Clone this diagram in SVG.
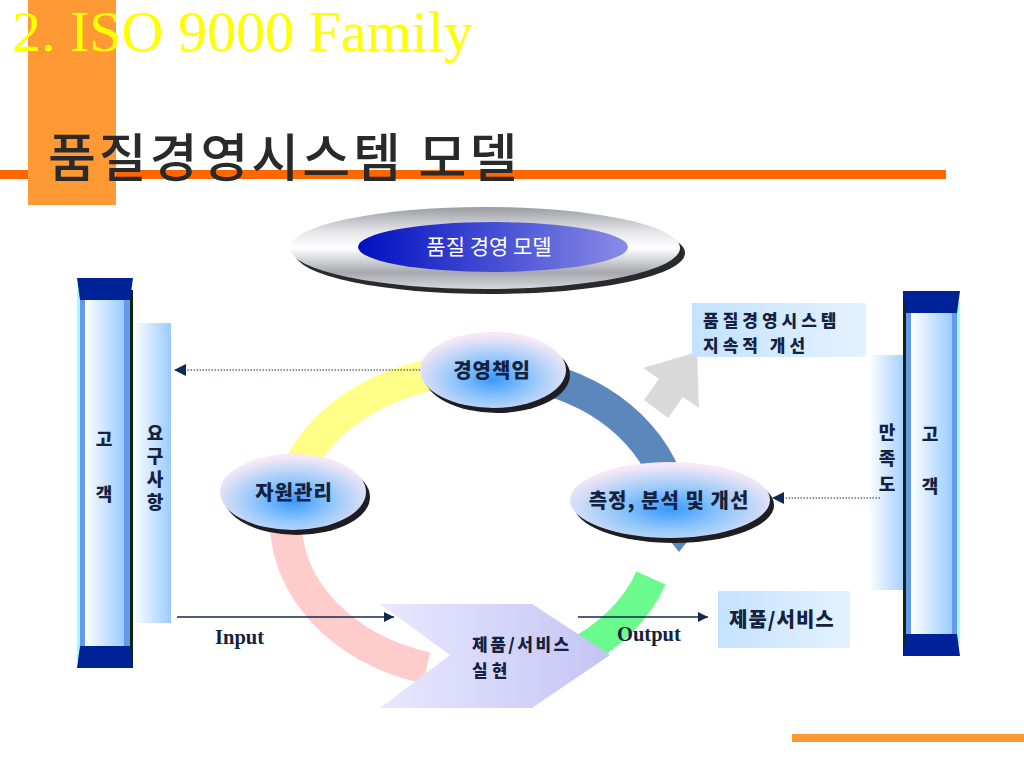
<svg xmlns="http://www.w3.org/2000/svg" width="1024" height="768" viewBox="0 0 1024 768">
<style>
.kt{font-family:"Noto Sans CJK KR","Noto Sans",sans-serif;font-weight:900;fill:#14223F;font-size:18px}
.vt{font-family:"Noto Sans CJK KR","Noto Sans",sans-serif;font-weight:900;fill:#14223F;font-size:18px;writing-mode:vertical-rl}
.kb{font-family:"Noto Sans CJK KR","Noto Sans",sans-serif;font-weight:900;fill:#14223F;font-size:20px;letter-spacing:1px}
.k2{font-family:"Noto Sans CJK KR","Noto Sans",sans-serif;font-weight:900;fill:#14223F;font-size:17px;letter-spacing:4px}
.ser{font-family:"Liberation Serif",serif;font-weight:bold;fill:#14223F;font-size:20.5px}
.conn{stroke:#14284F;stroke-width:1.5;fill:none}
.dot{stroke:#14284F;stroke-width:1;stroke-dasharray:1.5 1.5;fill:none}
.arc{fill:none;stroke-width:32}
.shadow{fill:#1E1E22}
</style>
<defs>
<marker id="ah" viewBox="0 0 10 10" refX="10" refY="5" markerWidth="10" markerHeight="10" markerUnits="userSpaceOnUse" orient="auto">
<path d="M0,0 L10,5 L0,10 Z" fill="#14284F"/>
</marker>
<marker id="ahd" viewBox="0 0 12 12" refX="12" refY="6" markerWidth="12" markerHeight="12" markerUnits="userSpaceOnUse" orient="auto">
<path d="M0,0 L12,6 L0,12 Z" fill="#0E2A55"/>
</marker>
<radialGradient id="nodeG" cx="50%" cy="62%" r="58%">
<stop offset="0" stop-color="#3A98FF"/>
<stop offset="0.45" stop-color="#90C6FA"/>
<stop offset="1" stop-color="#F6E8F6"/>
</radialGradient>
<linearGradient id="panelV" x1="0" y1="0" x2="1" y2="0">
<stop offset="0" stop-color="#FFFFFF"/>
<stop offset="1" stop-color="#99CCFF"/>
</linearGradient>
<linearGradient id="panelVR" x1="0" y1="0" x2="1" y2="0">
<stop offset="0" stop-color="#FFFFFF"/>
<stop offset="1" stop-color="#A8D2FF"/>
</linearGradient>
<linearGradient id="boxG" x1="0" y1="0" x2="1" y2="0">
<stop offset="0" stop-color="#C4E2FF"/>
<stop offset="1" stop-color="#E4F2FF"/>
</linearGradient>
<linearGradient id="chevG" x1="0" y1="0" x2="1" y2="0">
<stop offset="0" stop-color="#E8E8FF"/>
<stop offset="1" stop-color="#C4C4F4"/>
</linearGradient>
<linearGradient id="ovalOut" x1="0" y1="0" x2="0" y2="1">
<stop offset="0" stop-color="#9A9CA2"/>
<stop offset="0.3" stop-color="#E6E6EA"/>
<stop offset="0.5" stop-color="#FFFFFF"/>
<stop offset="0.8" stop-color="#A6A8AE"/>
<stop offset="1" stop-color="#D8D8DC"/>
</linearGradient>
<linearGradient id="ovalIn" x1="0" y1="0" x2="1" y2="0">
<stop offset="0" stop-color="#0010C0"/>
<stop offset="1" stop-color="#8A8CE6"/>
</linearGradient>
</defs>

<!-- header -->
<g id="header">
<rect x="0" y="170" width="946" height="9" fill="#FF6600"/>
<rect x="28" y="0" width="88" height="205" fill="#FF9933"/>
<text x="12" y="51" font-family="Liberation Serif, serif" font-size="58" fill="#FFFF00">2. ISO 9000 Family</text>
<text x="48" y="177" font-family="Noto Sans CJK KR, sans-serif" font-size="52" font-weight="500" letter-spacing="3" fill="#2A2A2A">품질경영시스템 모델</text>
<rect x="792" y="734" width="232" height="8" fill="#FF9933"/>
</g>

<!-- title oval -->
<g id="title-oval">
<ellipse cx="490" cy="253" rx="195" ry="41" fill="#2A2A2E"/>
<ellipse cx="485" cy="248" rx="195" ry="41" fill="url(#ovalOut)"/>
<ellipse cx="493" cy="247" rx="135" ry="25" fill="url(#ovalIn)"/>
<text x="489" y="254" text-anchor="middle" font-family="Noto Sans CJK KR, sans-serif" font-size="21" fill="#FFFFFF">품질 경영 모델</text>
</g>

<!-- cycle ring -->
<g id="ring">
<path class="arc" stroke="#FFFF88" d="M 297.7 470 A 194 152 0 0 1 463.1 370.6"/>
<path class="arc" stroke="#5B87BD" d="M 546.4 379.2 A 194 152 0 0 1 674 522"/>
<polygon points="660,528 698,528 679,552" fill="#5B87BD"/>
<path class="arc" stroke="#FFCCCC" d="M 426.5 668.1 A 194 152 0 0 1 286 522"/>
<path class="arc" stroke="#6BFA8E" d="M 572 656 A 194 152 0 0 0 651 578"/>
<polygon points="697,352 699,408 683,397 668,418 644,400 659,379 643,368" fill="#D9D9D9"/>
</g>

<!-- customer left -->
<g id="customer-left">
<rect x="77" y="290" width="56" height="370" fill="#6699EE"/>
<rect x="77" y="290" width="3" height="370" fill="#99FFFF"/>
<rect x="85" y="290" width="39" height="370" fill="url(#panelV)"/>
<rect x="130" y="290" width="3" height="378" fill="#0A2A10"/>
<polygon points="77,278 133,278 130,300 80,300" fill="#002299"/>
<polygon points="80,646 130,646 133,668 77,668" fill="#002299"/>
<text class="kt" x="104" y="446" text-anchor="middle">고</text>
<text class="kt" x="104" y="501" text-anchor="middle">객</text>
</g>

<g id="requirements">
<rect x="133" y="323" width="38" height="300" fill="url(#panelV)"/>
<text class="vt" x="155" y="424" letter-spacing="5">요구사항</text>
</g>

<!-- customer right -->
<g id="satisfaction">
<rect x="868" y="355" width="35" height="235" fill="url(#panelVR)"/>
<text class="vt" x="887" y="423" letter-spacing="8">만족도</text>
</g>

<g id="customer-right">
<rect x="903" y="303" width="57" height="341" fill="#6699EE"/>
<rect x="957" y="303" width="3" height="341" fill="#99FFFF"/>
<rect x="911" y="303" width="41" height="341" fill="url(#panelV)"/>
<rect x="903" y="291" width="3" height="365" fill="#0A2A10"/>
<polygon points="903,291 960,291 957,313 906,313" fill="#002299"/>
<polygon points="906,634 957,634 960,656 903,656" fill="#002299"/>
<text class="kt" x="930" y="441" text-anchor="middle">고</text>
<text class="kt" x="930" y="493" text-anchor="middle">객</text>
</g>

<g id="improvement">
<rect x="692" y="303" width="174" height="54" fill="url(#boxG)"/>
<text class="k2" x="703" y="327">품질경영시스템</text>
<text class="k2" x="703" y="352">지속적 개선</text>
</g>

<g id="product-out">
<rect x="718" y="591" width="132" height="57" fill="url(#boxG)"/>
<text class="kb" x="729" y="627">제품/서비스</text>
</g>

<!-- nodes -->
<g id="node-management">
<ellipse class="shadow" cx="497" cy="375" rx="73" ry="38"/>
<ellipse cx="493" cy="370" rx="73" ry="38" fill="url(#nodeG)"/>
<text class="kb" x="492" y="378" text-anchor="middle">경영책임</text>
</g>

<g id="node-resource">
<ellipse class="shadow" cx="297" cy="497" rx="73" ry="38"/>
<ellipse cx="293" cy="492" rx="73" ry="38" fill="url(#nodeG)"/>
<text class="kb" x="294" y="500" text-anchor="middle">자원관리</text>
</g>

<g id="node-measure">
<ellipse class="shadow" cx="674" cy="505" rx="100" ry="38"/>
<ellipse cx="670" cy="500" rx="100" ry="38" fill="url(#nodeG)"/>
<text class="kb" x="669" y="508" text-anchor="middle">측정, 분석 및 개선</text>
</g>

<g id="node-realization">
<polygon points="380,604 532,604 610,655 532,708 380,708 450,655" fill="url(#chevG)"/>
<text class="k2" x="472" y="651" style="letter-spacing:2.5px">제품/서비스</text>
<text class="k2" x="472" y="677">실현</text>
</g>

<!-- connectors -->
<g id="connectors">
<line class="dot" x1="420" y1="370" x2="174" y2="370" marker-end="url(#ahd)"/>
<line class="dot" x1="880" y1="498" x2="772" y2="498" marker-end="url(#ahd)"/>
<line class="conn" x1="177" y1="617" x2="394" y2="617" marker-end="url(#ah)"/>
<line class="conn" x1="578" y1="617" x2="708" y2="617" marker-end="url(#ah)"/>
<text class="ser" x="215" y="644">Input</text>
<text class="ser" x="617" y="641">Output</text>
</g>
</svg>
